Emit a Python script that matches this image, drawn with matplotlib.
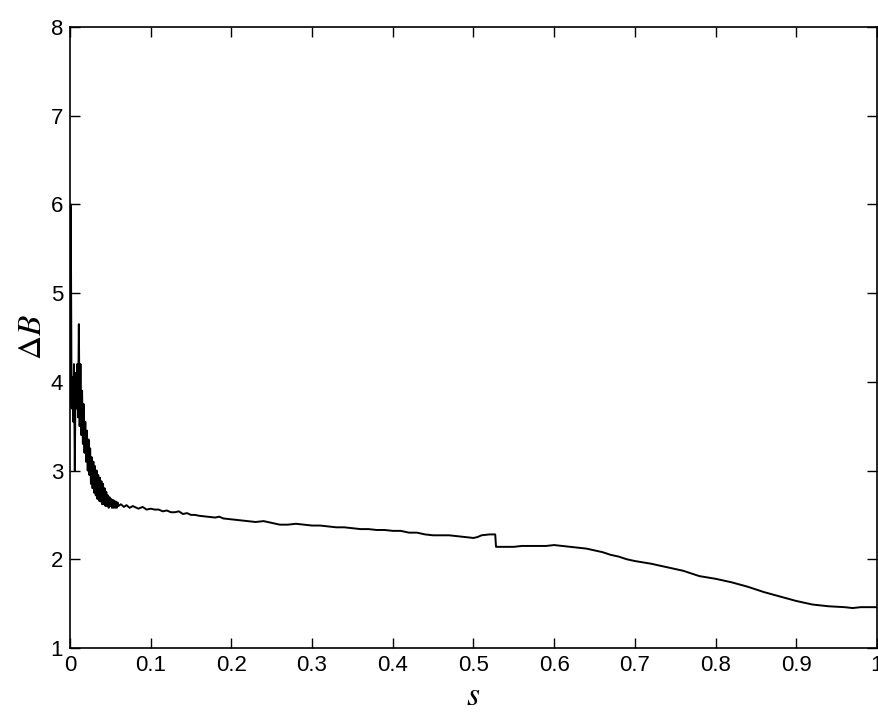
import numpy as np
import matplotlib
matplotlib.use("Agg")
import matplotlib.pyplot as plt

# values
s_vals = [0.000, 0.001, 0.002, 0.003, 0.004, 0.005, 0.006, 0.007, 0.008, 0.009,
          0.010, 0.011, 0.012, 0.013, 0.014, 0.015, 0.016, 0.017, 0.018, 0.019,
          0.020, 0.021, 0.022, 0.023, 0.024, 0.025, 0.026, 0.027, 0.028, 0.029,
          0.030, 0.031, 0.032, 0.033, 0.034, 0.035, 0.036, 0.037, 0.038, 0.039,
          0.040, 0.041, 0.042, 0.043, 0.044, 0.045, 0.046, 0.047, 0.048, 0.049,
          0.050, 0.051, 0.052, 0.053, 0.054, 0.055, 0.056, 0.057, 0.058, 0.059,
          0.060, 0.063, 0.067, 0.070, 0.074, 0.078, 0.080,
          0.085, 0.090, 0.095, 0.100, 0.105, 0.110, 0.115, 0.120, 0.125, 0.130,
          0.135, 0.140, 0.145, 0.150, 0.155, 0.160, 0.170, 0.180, 0.185, 0.190,
          0.200, 0.210, 0.220, 0.230, 0.240, 0.250, 0.260, 0.270, 0.280, 0.290,
          0.300, 0.310, 0.320, 0.330, 0.340, 0.350, 0.360, 0.370, 0.380, 0.390,
          0.400, 0.410, 0.420, 0.430, 0.440, 0.450, 0.460, 0.470, 0.480, 0.490,
          0.500, 0.505, 0.510, 0.520, 0.527, 0.528, 0.540, 0.550, 0.560, 0.570,
          0.580, 0.590, 0.600, 0.610, 0.620, 0.630, 0.640, 0.650, 0.660, 0.670,
          0.680, 0.690, 0.700, 0.720, 0.740, 0.760, 0.780, 0.800, 0.820, 0.840,
          0.860, 0.880, 0.900, 0.920, 0.940, 0.960, 0.970, 0.980, 1.000]

dB_vals = [3.75, 6.00, 3.70, 4.05, 3.55, 4.20, 3.00, 4.10, 3.70, 4.20,
           3.60, 4.65, 3.50, 4.20, 3.40, 3.90, 3.30, 3.75, 3.20, 3.55,
           3.10, 3.45, 3.00, 3.35, 2.95, 3.25, 2.85, 3.15, 2.80, 3.10,
           2.75, 3.05, 2.72, 3.00, 2.68, 2.95, 2.66, 2.92, 2.65, 2.88,
           2.62, 2.85, 2.62, 2.80, 2.60, 2.76, 2.60, 2.72, 2.58, 2.70,
           2.60, 2.68, 2.58, 2.67, 2.58, 2.66, 2.58, 2.65, 2.58, 2.64,
           2.60, 2.62, 2.59, 2.61, 2.58, 2.60, 2.59,
           2.57, 2.59, 2.56, 2.57, 2.56, 2.56, 2.54, 2.55, 2.53, 2.53,
           2.54, 2.51, 2.52, 2.50, 2.50, 2.49, 2.48, 2.47, 2.48, 2.46,
           2.45, 2.44, 2.43, 2.42, 2.43, 2.41, 2.39, 2.39, 2.40, 2.39,
           2.38, 2.38, 2.37, 2.36, 2.36, 2.35, 2.34, 2.34, 2.33, 2.33,
           2.32, 2.32, 2.30, 2.30, 2.28, 2.27, 2.27, 2.27, 2.26, 2.25,
           2.24, 2.25, 2.27, 2.28, 2.28, 2.14, 2.14, 2.14, 2.15, 2.15,
           2.15, 2.15, 2.16, 2.15, 2.14, 2.13, 2.12, 2.10, 2.08, 2.05,
           2.03, 2.00, 1.98, 1.95, 1.91, 1.87, 1.81, 1.78, 1.74, 1.69,
           1.63, 1.58, 1.53, 1.49, 1.47, 1.46, 1.45, 1.46, 1.46]

x_ticks = [0, 0.1, 0.2, 0.3, 0.4, 0.5, 0.6, 0.7, 0.8, 0.9, 1]
x_ticklabels = ["0", "0.1", "0.2", "0.3", "0.4", "0.5", "0.6", "0.7", "0.8", "0.9", "1"]
y_ticks = [1, 2, 3, 4, 5, 6, 7, 8]

plt.rcParams['mathtext.fontset'] = 'stix'

fig = plt.figure(figsize=(8.79, 7.13), dpi=100)
ax = fig.add_axes([0.0796, 0.0912, 0.918, 0.871])

ax.plot(s_vals, dB_vals, color='k', linewidth=1.4)

ax.set_xlim(0, 1)
ax.set_ylim(1, 8)
ax.set_xticks(x_ticks)
ax.set_xticklabels(x_ticklabels)
ax.set_yticks(y_ticks)

for lab in ax.get_xticklabels() + ax.get_yticklabels():
    lab.set_family('Liberation Sans')
    lab.set_fontsize(16)

ax.tick_params(direction='in', length=7, width=1, top=True, right=True, pad=5)
for sp in ax.spines.values():
    sp.set_linewidth(1.2)

ax.set_xlabel(r'$s$', fontsize=24, labelpad=2)
ax.set_ylabel(r'$\Delta B$', fontsize=24, labelpad=2)

fig.savefig("out.png", dpi=100)
